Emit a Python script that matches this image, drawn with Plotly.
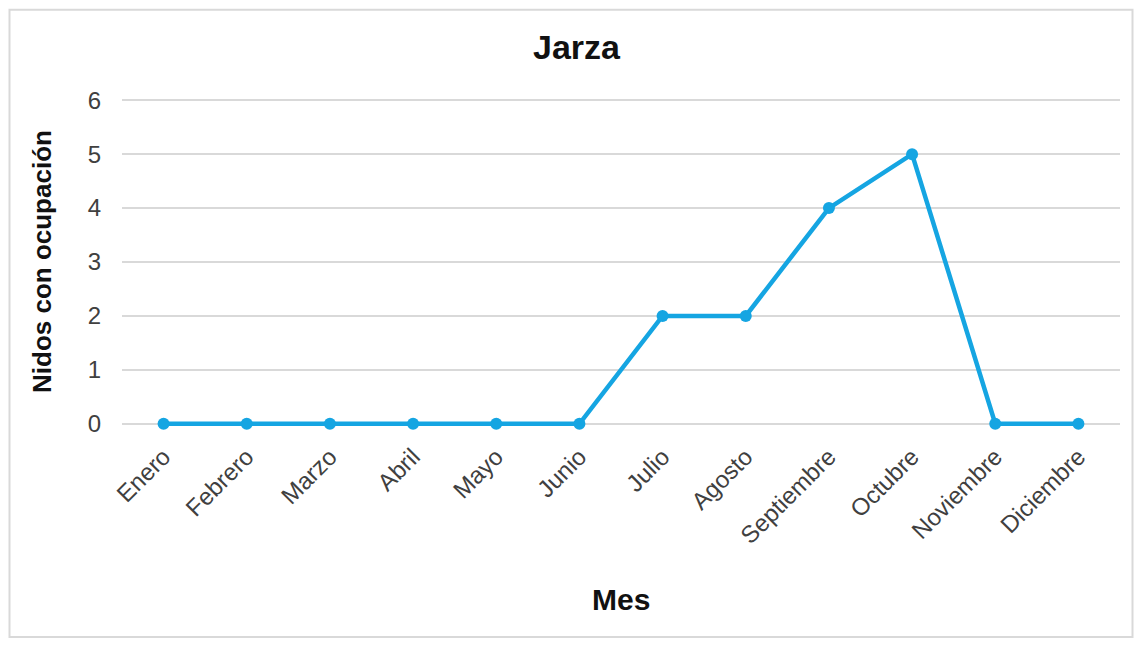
import plotly.graph_objects as go

months = ["Enero", "Febrero", "Marzo", "Abril", "Mayo", "Junio", "Julio",
          "Agosto", "Septiembre", "Octubre", "Noviembre", "Diciembre"]
nidos = [0, 0, 0, 0, 0, 0, 2, 2, 4, 5, 0, 0]
y_ticks = [0, 1, 2, 3, 4, 5, 6]

# page offset (body margin)
OX, OY = 8, 8
W, H = 1142 - 2 * OX, 647 - 2 * OY
# target plot area in screenshot pixels (value 6 at y=100, value 0 at y=424)
YPAD = 0.06
PPU = 54.0
X0, X1 = 122, 1120
Y0, Y1 = 100 - YPAD * PPU, 424 + YPAD * PPU
L, R, T, B = X0 - OX, W - (X1 - OX), Y0 - OY, H - (Y1 - OY)
pw, ph = W - L - R, H - T - B

def px(xs):
    return (xs - X0) / pw

def py(ys):
    return (Y1 - ys) / ph

line_color = "#15A5E2"
fig = go.Figure()
fig.add_trace(go.Scatter(
    x=months, y=nidos, mode="lines+markers",
    line=dict(color=line_color, width=4.5),
    marker=dict(color=line_color, size=12),
    showlegend=False, cliponaxis=False,
))

fig.update_layout(
    width=W, height=H,
    margin=dict(l=L, r=R, t=T, b=B, pad=0),
    paper_bgcolor="white", plot_bgcolor="white",
    font=dict(family="Liberation Sans, Arial, sans-serif", color="#404040", size=24),
    xaxis=dict(
        type="category", tickangle=-45, showgrid=False, showline=False,
        ticks="", tickfont=dict(size=24, color="#404040"),
        range=[-0.5, len(months) - 0.5], zeroline=False, ticklabelstandoff=10,
    ),
    yaxis=dict(
        range=[-YPAD, 6 + YPAD], tickvals=y_ticks, showgrid=True, gridcolor="#D9D9D9",
        gridwidth=1.5, zeroline=False, showline=False, ticks="",
        tickfont=dict(size=24, color="#404040"), ticklabelstandoff=20,
    ),
    annotations=[
        dict(text="<b>Jarza</b>", x=px(577), y=py(47), xref="paper", yref="paper",
             showarrow=False, font=dict(size=34, color="#111111"),
             xanchor="center", yanchor="middle"),
        dict(text="<b>Mes</b>", x=px(621), y=py(600), xref="paper", yref="paper",
             showarrow=False, font=dict(size=30, color="#111111"),
             xanchor="center", yanchor="middle"),
        dict(text="<b>Nidos con ocupación</b>", x=px(42), y=py(262), xref="paper",
             yref="paper", showarrow=False, textangle=-90,
             font=dict(size=26, color="#111111"), xanchor="center", yanchor="middle"),
    ],
    shapes=[
        dict(type="rect", xref="paper", yref="paper",
             x0=px(9.5), x1=px(1132.5), y0=py(637.5), y1=py(9.5),
             line=dict(color="#D9D9D9", width=2), fillcolor="rgba(0,0,0,0)",
             layer="below"),
    ],
)

fig.write_html("out.html")
